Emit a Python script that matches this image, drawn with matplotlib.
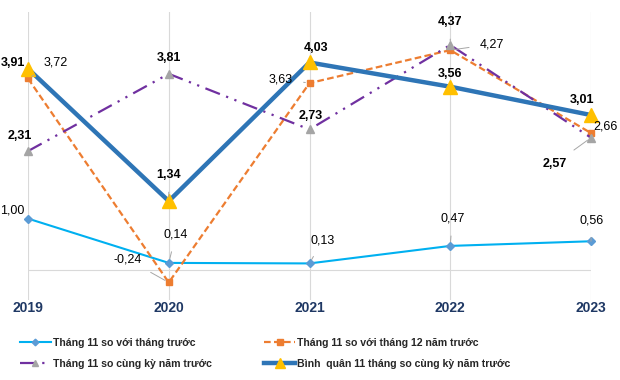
import matplotlib
matplotlib.use("Agg")
import matplotlib.pyplot as plt

plt.rcParams['font.family'] = ['Liberation Sans', 'DejaVu Sans']

years = ["2019", "2020", "2021", "2022", "2023"]
s_prev_month = [1.00, 0.14, 0.13, 0.47, 0.56]
s_dec_prev_year = [3.72, -0.24, 3.63, 4.27, 2.66]
s_same_period = [2.31, 3.81, 2.73, 4.37, 2.57]
s_avg_11m = [3.91, 1.34, 4.03, 3.56, 3.01]

names = ["Tháng 11 so với tháng trước",
         "Tháng 11 so với tháng 12 năm trước",
         "Tháng 11 so cùng kỳ năm trước",
         "Bình  quân 11 tháng so cùng kỳ năm trước"]

fig = plt.figure(figsize=(6.2, 3.8), dpi=100)
ax = fig.add_axes([28/620, 1-300/380, (591-28)/620, (300-12)/380])
x = list(range(len(years)))

l1, = ax.plot(x, s_prev_month, color='#00B0F0', lw=1.5, marker='D', ms=4.5,
              mfc='#5B9BD5', mec='#5B9BD5', zorder=3, clip_on=False)
l2, = ax.plot(x, s_dec_prev_year, color='#ED7D31', lw=1.6, ls=(0, (3, 1.5)), marker='s', ms=5,
              mfc='#ED7D31', mec='#ED7D31', zorder=4, clip_on=False)
l3, = ax.plot(x, s_same_period, color='#7030A0', lw=1.6, ls=(0, (7, 3, 1, 3, 1, 3)), marker='^', ms=6,
              mfc='#A5A5A5', mec='#A5A5A5', zorder=5, clip_on=False)
l4, = ax.plot(x, s_avg_11m, color='#2E75B6', lw=3.2, marker='^', ms=10,
              mfc='#FFC000', mec='#FFC000', zorder=6, clip_on=False)

ax.set_xlim(0, 4)
ax.set_ylim(-0.58, 5.01)
for xi in x:
    ax.axvline(xi, color='#D9D9D9', lw=0.8, zorder=0)
ax.axhline(0, color='#D9D9D9', lw=0.8, zorder=0)
for sp in ax.spines.values():
    sp.set_visible(False)
ax.set_yticks([])
ax.set_xticks(x)
ax.set_xticklabels(years, fontsize=10, fontweight='bold', color='#1F3864')
ax.tick_params(axis='x', length=0, pad=1)

def fmt(v):
    return f"{v:.2f}".replace('.', ',')

offs1 = [(-16, 8), (7, 28), (13, 23), (2, 27), (1, 21)]
offs2 = [(28, 16), (-41, 23), (-29, 4), (42, 6), (14, 7)]
offs3 = [(-8, 15), (0, 16), (1, 13), (0, 23), (-36, -26)]
offs4 = [(-15, 6), (0, 26), (7, 14), (0, 13), (-9, 15)]

def label(vals, offs, bold):
    for xi, v, (dx, dy) in zip(x, vals, offs):
        long = (dx * dx + dy * dy) > 400
        ax.annotate(fmt(v), (xi, v), xytext=(dx, dy), textcoords='offset pixels',
                    ha='center', va='center', fontsize=9,
                    fontweight='bold' if bold else 'normal', color='black',
                    annotation_clip=False, zorder=8,
                    arrowprops=dict(arrowstyle='-', color='#A6A6A6', lw=0.7,
                                    shrinkA=6, shrinkB=3) if long else None)

label(s_prev_month, offs1, False)
label(s_dec_prev_year, offs2, False)
label(s_same_period, offs3, True)
label(s_avg_11m, offs4, True)

leg = fig.legend([l1, l3, l2, l4], [names[0], names[2], names[1], names[3]],
                 loc='upper left', ncol=2,
                 bbox_to_anchor=(20/620, 1-338/380), frameon=False,
                 prop={'size': 7.6, 'weight': 'bold'}, handlelength=2.9,
                 handletextpad=0.2, columnspacing=5.0, labelspacing=1.0,
                 markerscale=0.75, borderaxespad=0, borderpad=0)
for t in leg.get_texts():
    t.set_color('#262626')

fig.savefig('out.png', dpi=100)
